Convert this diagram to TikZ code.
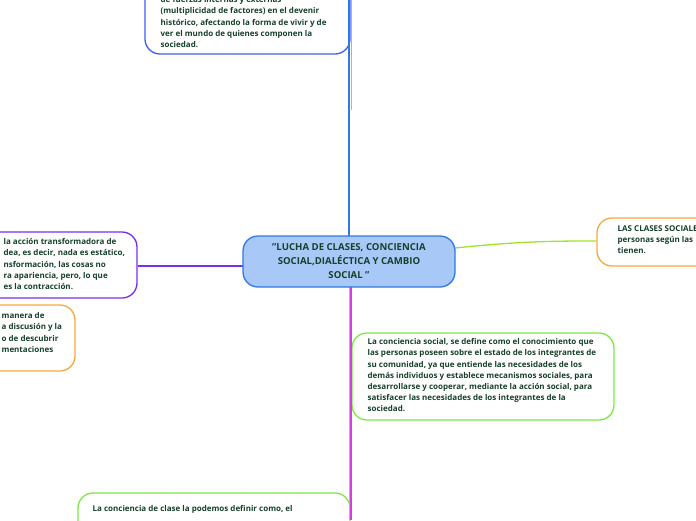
\documentclass[tikz,border=0pt]{standalone}
\usepackage{fontspec}
\setmainfont{Open Sans}
\definecolor{ink}{RGB}{22,64,42}
\definecolor{hubfill}{RGB}{168,200,248}
\definecolor{hubline}{RGB}{47,120,230}
\definecolor{royal}{RGB}{60,95,240}
\definecolor{violet}{RGB}{120,45,240}
\definecolor{amber}{RGB}{247,168,60}
\definecolor{lime}{RGB}{125,232,70}
\definecolor{chartreuse}{RGB}{160,228,40}
\definecolor{orchid}{RGB}{214,60,224}
\begin{document}
\begin{tikzpicture}[x=1pt, y=-1pt, line width=1.3pt, text=ink,
    font=\bfseries\fontsize{8}{11.2}\selectfont,
    box/.style={draw, rounded corners=15pt, inner sep=0pt},
    note/.style={anchor=north west, align=left, inner sep=0pt}]
    \useasboundingbox (0,0) rectangle (696,520);
    \clip (0,0) rectangle (696,520);

    \coordinate (up1) at (349,0);
    \coordinate (up2) at (351,0);
    \coordinate (down1) at (349,520);
    \coordinate (down2) at (351,520);

    \node[box, royal, minimum width=205pt, minimum height=114pt] (causes) at (247.5,-3) {};
    \node[box, violet, minimum width=197pt, minimum height=66pt] (dialectic) at (38.5,265) {};
    \node[box, amber, minimum width=195pt, minimum height=66pt] (method) at (-22.5,338) {};
    \node[box, amber, minimum width=203pt, minimum height=48pt] (classes) at (698.5,242) {};
    \node[box, lime, minimum width=262pt, minimum height=87pt] (social) at (483,376.5) {};
    \node[box, lime, minimum width=272pt, minimum height=87pt] (classcon) at (214,536.5) {};

    \draw[amber, line width=0.8pt] (351,110) -- (up2);
    \draw[gray, line width=0.8pt] (348,236) -- (348,110);
    \draw[hubline] (349,236) -- (up1);
    \draw[violet] (dialectic.east |- 0,266) -- (243,266);
    \draw[chartreuse] (455,248) to[bend left=3] (classes.west |- 0,241);
    \draw[lime, line width=0.8pt] (349,287) -- (down1);
    \draw[orchid, line width=1.6pt] (351,287) -- (down2);

    \node[draw=hubline, fill=hubfill, rounded corners=15pt, minimum width=212pt,
        minimum height=51pt, align=center, inner sep=0pt,
        font=\bfseries\fontsize{9.6}{14}\selectfont] (hub) at (349,261.5)
        {\symbol{34}LUCHA DE CLASES, CONCIENCIA\\SOCIAL,DIALÉCTICA Y CAMBIO\\SOCIAL \symbol{34}};

    \node[note] (causestext) at (160,-4) {de fuerzas internas y externas\\(multiplicidad de factores) en el devenir\\histórico, afectando la forma de vivir y de\\ver el mundo de quienes componen la\\sociedad.};
    \node[note] (dialectictext) at (3,238) {la acción transformadora de\\dea, es decir, nada es estático,\\nsformación, las cosas no\\ra apariencia, pero, lo que\\es la contracción.};
    \node[note] (methodtext) at (1,312) {manera de\\a discusión y la\\o de descubrir\\mentaciones};
    \node[note] (classestext) at (617,225) {LAS CLASES SOCIALE\\personas según las\\tienen.};
    \node[note] (socialtext) at (367,338) {La conciencia social, se define como el conocimiento que\\las personas poseen sobre el estado de los integrantes de\\su comunidad, ya que entiende las necesidades de los\\demás individuos y establece mecanismos sociales, para\\desarrollarse y cooperar, mediante la acción social, para\\satisfacer las necesidades de los integrantes de la\\sociedad.};
    \node[note] (classcontext) at (92,505) {La conciencia de clase la podemos definir como, el};
\end{tikzpicture}
\end{document}
